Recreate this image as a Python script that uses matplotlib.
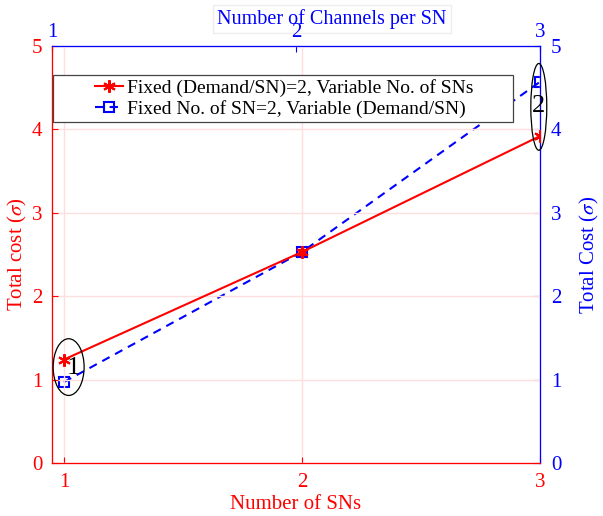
import matplotlib.pyplot as plt
from matplotlib.patches import Ellipse, Rectangle

plt.rcParams['font.family'] = ['Liberation Serif', 'DejaVu Serif']
plt.rcParams['mathtext.fontset'] = 'stix'

num_sns = [1, 2, 3]
cost_var_sns = [1.24, 2.53, 3.92]
channels = [1, 2, 3]
cost_var_demand = [0.97, 2.53, 4.57]

label_red = "Fixed (Demand/SN)=2, Variable No. of SNs"
label_blue = "Fixed No. of SN=2, Variable (Demand/SN)"

fig = plt.figure(figsize=(6.03, 5.16), dpi=100)
ax = fig.add_axes([0.0862, 0.1027, 0.8093, 0.8082])
ax.set_xlim(0.95, 3.0)
ax.set_ylim(0, 5)
ax.set_xticks([1, 2, 3])
ax.set_yticks([0, 1, 2, 3, 4, 5])
ax.grid(True, color='#ffdede', linewidth=1.0)
ax.tick_params(direction='in', colors='red', labelsize=15, length=4, pad=7)
for s in ['left', 'bottom']:
    ax.spines[s].set_color('red')
for s in ['top', 'right']:
    ax.spines[s].set_color('blue')
ax.set_xlabel("Number of SNs", color='red', fontsize=15, labelpad=2)
ax.set_ylabel(r"Total cost ($\sigma$)", color='red', fontsize=15, labelpad=2)
l1, = ax.plot(num_sns, cost_var_sns, '-', color='red', lw=1.5, marker=(6, 2, 0),
              ms=9, mew=1.5, zorder=5, label=label_red)

ax2 = ax.twinx()
ax2.set_ylim(0, 5)
ax2.set_yticks([0, 1, 2, 3, 4, 5])
ax2.tick_params(direction='in', colors='blue', labelsize=15, length=4, pad=8)
ax2.spines['right'].set_color('blue')
ax2.spines['top'].set_color('blue')
ax2.spines['left'].set_color('red')
ax2.spines['bottom'].set_color('red')
ax2.set_ylabel(r"Total Cost ($\sigma$)", color='blue', fontsize=15, labelpad=12)
l2, = ax2.plot(channels, cost_var_demand, '--', color='blue', lw=1.5, marker='s',
               ms=7, mfc='none', mew=1.5, dashes=(4, 3))
ax2.plot([2], [2.53], marker='s', color='red', ms=4, ls='none', zorder=6)

ax3 = ax.twiny()
ax3.set_xlim(1, 3)
ax3.set_xticks([1, 2, 3])
ax3.tick_params(direction='in', colors='blue', labelsize=15, length=4, pad=3)
ax3.spines['top'].set_color('blue')
ax3.spines['right'].set_color('blue')
ax3.spines['left'].set_color('red')
ax3.spines['bottom'].set_color('red')
fig.text(0.5506, 1 - 19 / 516, "Number of Channels per SN", color='blue', fontsize=14.5,
         ha='center', va='center', zorder=0.5,
         bbox=dict(facecolor='white', edgecolor='#eeeeee', pad=3))

ax.add_patch(Ellipse((1.02, 1.15), 0.13, 0.68, fill=False, edgecolor='black',
                     lw=0.9, zorder=7))
ax.text(1.04, 1.14, "1", fontsize=19, ha='center', va='center', zorder=8)
ax.add_patch(Ellipse((2.995, 4.27), 0.067, 1.04, fill=False, edgecolor='black',
                     lw=0.9, zorder=7, clip_on=False))
ax.text(2.995, 4.28, "2", fontsize=19, ha='center', va='center', zorder=8)
ax.set_zorder(3)
ax.patch.set_visible(False)
ax2.set_zorder(2)
ax3.set_zorder(1)

ax.add_patch(Rectangle((0.002, 0.818), 0.943, 0.112, transform=ax.transAxes,
                       facecolor='white', edgecolor='#444444', lw=0.9, zorder=9))
leg = ax.legend([l1, l2], [label_red, label_blue], loc='upper left',
                bbox_to_anchor=(0.088, 0.921), borderaxespad=0, frameon=False,
                fontsize=14, handlelength=1.45, handletextpad=0.2, borderpad=0,
                labelspacing=0.15)
leg.set_zorder(10)

fig.savefig("out.png", dpi=100)
